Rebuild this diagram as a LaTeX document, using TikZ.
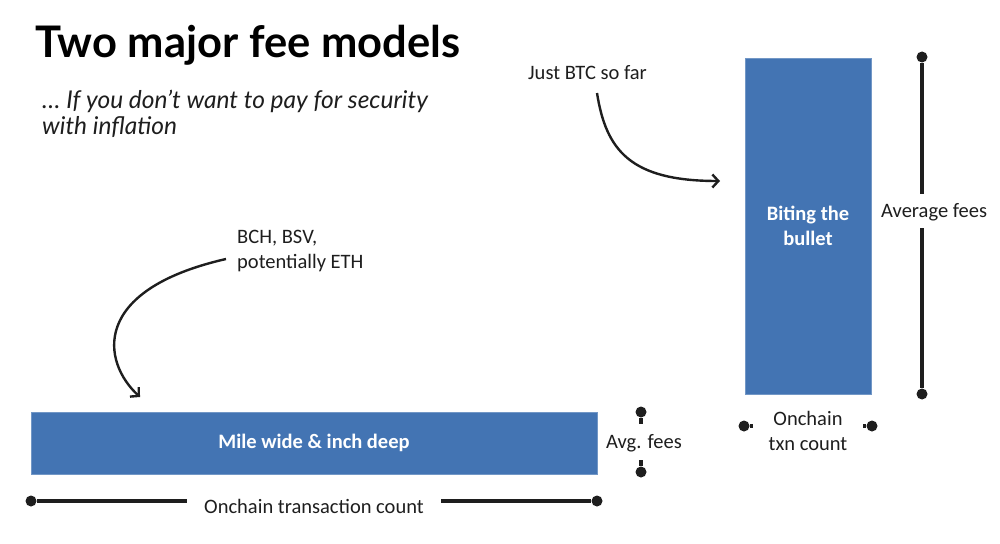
\documentclass[tikz,border=0pt]{standalone}
\usepackage{fontspec}
\setmainfont{Carlito}
\newfontfamily\titlefont{Lato}
\usetikzlibrary{arrows.meta}
\definecolor{barblue}{HTML}{4374B3}
\definecolor{ink}{HTML}{1E1E1E}
\begin{document}
\begin{tikzpicture}[x=1pt,y=-1pt,
  bar/.style={fill=barblue, draw=barblue!75!white, line width=0.8pt, inner sep=0pt, text=white, font=\fontsize{20.5}{25}\selectfont\bfseries, align=center},
  lbl/.style={text=ink, font=\fontsize{20.5}{25}\selectfont, inner sep=0pt},
  dot/.style={circle, fill=ink, minimum size=11pt, inner sep=0pt},
  dim/.style={draw=ink, line width=3.5pt},
  pointer/.style={draw=ink, line width=2.4pt, -{Straight Barb[length=6pt,width=13pt]}}
]
\useasboundingbox (0,0) rectangle (1000,543);
\fill[white] (0,0) rectangle (1000,543);

% titles
\node[anchor=base west, inner sep=0pt, text=black, font=\titlefont\bfseries\fontsize{43.5}{50}\selectfont] (title) at (35,57) {Two major fee models};
\node[anchor=north west, inner sep=0pt, text=ink, align=left, font=\titlefont\itshape\fontsize{24.5}{26}\selectfont] (sub) at (42,90) {\dots\ If you don’t want to pay for security\\with inflation};

% bars
\node[bar, minimum width=126pt, minimum height=336pt] (bite) at (808,226) {Biting the\\bullet};
\node[bar, minimum width=566pt, minimum height=62pt] (mile) at (314,443) {Mile wide \& inch deep};

% labels
\node[lbl, anchor=west] (btc) at (528,73) {Just BTC so far};
\node[lbl, anchor=west, align=left] (bch) at (237,251) {BCH, BSV,\\potentially ETH};
\node[lbl, anchor=west] (avgf) at (881,212) {Average fees};
\node[lbl, anchor=west] (avgs) at (606,443) {Avg. fees};
\node[lbl, align=center] (txn) at (808,431) {Onchain\\txn count};
\node[lbl] (otc) at (314,506) {Onchain transaction count};

% pointers
\coordinate (p1s) at (597,93);
\coordinate (p1e) at (720,181);
\draw[pointer] (p1s) .. controls (606,150) and (630,181) .. (p1e);
\coordinate (p2s) at (226,259);
\coordinate (p2e) at (140,397);
\draw[pointer] (p2s) .. controls (90,290) and (102,362) .. (p2e);

% vertical dimension (right)
\node[dot] (a1) at (922,57) {};
\node[dot] (a2) at (922,394) {};
\coordinate (a1e) at (922,194);
\coordinate (a2e) at (922,228);
\draw[dim] (a1) -- (a1e);
\draw[dim] (a2e) -- (a2);

% horizontal dimension (bottom)
\node[dot] (h1) at (31,501) {};
\node[dot] (h2) at (597,501) {};
\coordinate (h1e) at (187,501);
\coordinate (h2e) at (441,501);
\draw[dim] (h1) -- (h1e);
\draw[dim] (h2e) -- (h2);

% small vertical (avg fees)
\node[dot] (v1) at (641,412) {};
\node[dot] (v2) at (641,472) {};
\coordinate (v1e) at (641,424);
\coordinate (v2e) at (641,460);
\draw[dim] (v1) -- (v1e);
\draw[dim] (v2e) -- (v2);

% small horizontal (txn count)
\node[dot] (o1) at (744,426) {};
\node[dot] (o2) at (872,426) {};
\coordinate (o1e) at (753,426);
\coordinate (o2e) at (863,426);
\draw[dim] (o1) -- (o1e);
\draw[dim] (o2e) -- (o2);
\end{tikzpicture}
\end{document}
